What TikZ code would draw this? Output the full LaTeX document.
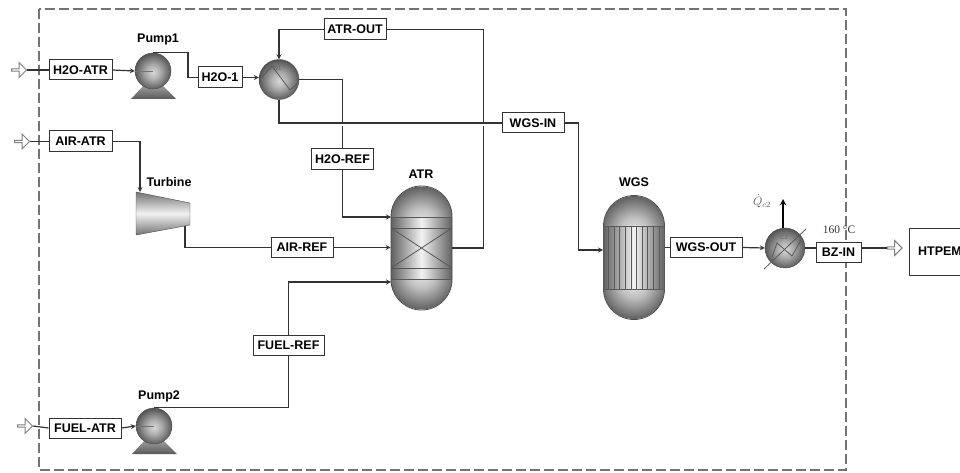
\documentclass[tikz,border=0pt]{standalone}
\usepackage{fontspec}
\setmainfont{Liberation Sans}
\newfontfamily\notefont{Liberation Serif}
\usetikzlibrary{shapes.arrows}

% Sombras de los equipos
\pgfdeclareradialshading{vesseltop}{\pgfpoint{0bp}{-6bp}}{gray(0bp)=(.93); gray(12bp)=(.75); gray(31bp)=(.3); gray(50bp)=(.3)}
\pgfdeclareradialshading{vesselbottom}{\pgfpoint{0bp}{6bp}}{gray(0bp)=(.93); gray(12bp)=(.75); gray(31bp)=(.3); gray(50bp)=(.3)}
\pgfdeclareradialshading{ballshade}{\pgfpoint{0bp}{-2bp}}{gray(0bp)=(.85); gray(10bp)=(.68); gray(27bp)=(.3); gray(50bp)=(.3)}

\begin{document}
\begin{tikzpicture}[>=stealth, x=1pt, y=-1pt, every node/.style={font=\fontsize{12.5}{14}\selectfont\bfseries}]

\tikzset{
    stream/.style={draw=black!80, line width=1.2pt},
    tagbox/.style={draw=black!80, fill=white, line width=1pt, inner sep=0pt},
    feedarrow/.style={single arrow, draw=black!50, fill=white, line width=1pt, inner sep=0pt,
        minimum width=15pt, minimum height=15pt, single arrow head extend=3pt},
    eqball/.style={circle, shade, shading=ballshade, draw=black!70, inner sep=0pt},
    vesselshell/.style={rectangle, draw=black!70, line width=.8pt, rounded corners=30.5pt,
        minimum width=61pt, minimum height=124pt, inner sep=0pt},
    innerline/.style={draw=black!65, line width=.8pt}
}

\useasboundingbox (0,0) rectangle (960,473);

% Limite de la planta
\draw[black!55, line width=1.2pt, dash pattern=on 10pt off 4pt] (39,9) rectangle (846,470);

% =============================================
% BOMBAS
% =============================================
\foreach \pumpname/\px/\py in {Pump1/153/71, Pump2/154/426} {
    \shade[top color=black!35, bottom color=black!65]
        (\px-22,\py+28) -- (\px-8,\py+13) -- (\px+8,\py+13) -- (\px+23,\py+28) -- cycle;
    \node[eqball, minimum size=36pt, name=\pumpname] at (\px,\py) {};
    \draw[black!55, line width=.6pt] (\pumpname.west) -- (\pumpname.center);
}
\node (Pump1label) at (158,39) {Pump1};
\node (Pump2label) at (159,396) {Pump2};

% =============================================
% REACTORES
% =============================================
\foreach \vesselname/\vx/\vy in {ATR/421.5/248, WGS/634/257.5} {
    \begin{scope}
        \clip (\vx-30.5,\vy-63) rectangle (\vx+30.5,\vy-31);
        \shade[shading=vesseltop] (\vx,\vy-31) circle (30.5pt);
    \end{scope}
    \begin{scope}
        \clip (\vx-30.5,\vy+31) rectangle (\vx+30.5,\vy+63);
        \shade[shading=vesselbottom] (\vx,\vy+31) circle (30.5pt);
    \end{scope}
    \shade[left color=black!62, right color=black!62, middle color=black!5]
        (\vx-30.5,\vy-31) rectangle (\vx+30.5,\vy+31);
    \node[vesselshell, name=\vesselname] at (\vx,\vy) {};
}
\node (ATRlabel) at (421,174) {ATR};
\node (WGSlabel) at (634,182) {WGS};

% Lechos del ATR
\foreach \bandy in {217,228,268,279} {
    \draw[innerline] (391,\bandy) -- (452,\bandy);
}
\draw[innerline] (391,228) -- (452,268);
\draw[innerline] (391,268) -- (452,228);

% Tubos del WGS
\foreach \tubex in {603,608.6,...,665} {
    \draw[innerline] (\tubex,226) -- (\tubex,289);
}
\draw[innerline] (603,226) -- (665,226);
\draw[innerline] (603,289) -- (665,289);

% =============================================
% TURBINA E INTERCAMBIADORES
% =============================================
\shade[top color=black!55, bottom color=black!55, middle color=black!5, draw=black!70]
    (136,192) -- (190,203) -- (190,225) -- (136,235) -- cycle;
\coordinate (Turbinein) at (140,192);
\coordinate (Turbineout) at (185,226);
\node (Turbinelabel) at (169,182) {Turbine};

\node[eqball, minimum size=40pt] (W1) at (279,79.5) {};
\draw[innerline] (261,78) -- (272,66) -- (290,90) -- (298,83);
\node[font=\fontsize{6}{7}\selectfont, text=black!60] (W1label) at (277,68) {W1};

\node[eqball, minimum size=40pt] (C2) at (785,248) {};
\draw[innerline] (764,269) -- (806,229);
\draw[innerline] (772,257) -- (777,243) -- (792,256) -- (801,240);
\node[font=\fontsize{6}{7}\selectfont, text=black!60] (C2label) at (784,237) {C2};

% =============================================
% ETIQUETAS DE CORRIENTES
% =============================================
\node[tagbox, minimum width=63pt, minimum height=20pt] (H2OATR) at (80.5,70) {H2O-ATR};
\node[tagbox, minimum width=63pt, minimum height=21pt] (AIRATR) at (80.5,141.5) {AIR-ATR};
\node[tagbox, minimum width=72pt, minimum height=20pt] (FUELATR) at (85,428) {FUEL-ATR};
\node[tagbox, minimum width=44pt, minimum height=21pt] (H2Oone) at (220,77.5) {H2O-1};
\node[tagbox, minimum width=62pt, minimum height=21pt] (ATROUT) at (355,29.5) {ATR-OUT};
\node[tagbox, minimum width=62pt, minimum height=21pt] (H2OREF) at (342.5,159) {H2O-REF};
\node[tagbox, minimum width=62pt, minimum height=20pt] (WGSIN) at (533,123) {WGS-IN};
\node[tagbox, minimum width=62pt, minimum height=20pt] (AIRREF) at (302,247.5) {AIR-REF};
\node[tagbox, minimum width=71pt, minimum height=20pt] (FUELREF) at (288.5,345.5) {FUEL-REF};
\node[tagbox, minimum width=72pt, minimum height=20pt] (WGSOUT) at (706,247.5) {WGS-OUT};
\node[tagbox, minimum width=45pt, minimum height=20pt] (BZIN) at (838.5,252) {BZ-IN};
\node[tagbox, minimum width=62pt, minimum height=47pt] (HTPEM) at (940,251.5) {HTPEM};

% Flechas de alimentacion y salida
\node[feedarrow] (feedH2O) at (18.5,70) {};
\node[feedarrow] (feedAIR) at (21.5,141.5) {};
\node[feedarrow] (feedFUEL) at (24.5,426) {};
\node[feedarrow] (feedHTPEM) at (894,248) {};

% Puntos de entrada a los reactores
\coordinate (ATRintop) at (391,217);
\coordinate (ATRinlow) at (391,282);
\coordinate (WGSin) at (603,250);

% =============================================
% CORRIENTES
% =============================================
\draw[stream] (feedH2O.east) -- (H2OATR.west);
\draw[stream, ->] (H2OATR.east) -- (Pump1.west);
\draw[stream] (Pump1.north) -- ++(35,0) |- (H2Oone.west);
\draw[stream, ->] (H2Oone.east) -- (H2Oone.east -| W1.west);
\draw[stream, ->] (ATROUT.west) -| (W1.north);
\draw[stream] (W1.east) -| (H2OREF.north);
\draw[stream, ->] (H2OREF.south) |- (ATRintop);
\draw[stream] (ATR.east) -- ++(31,0) |- (ATROUT.east);

\draw[stream] (feedAIR.east) -- (AIRATR.west);
\draw[stream, ->] (AIRATR.east) -| (Turbinein);
\draw[stream] (Turbineout) |- (AIRREF.west);
\draw[stream, ->] (AIRREF.east) -- (AIRREF.east -| ATR.west);

\draw[stream] (feedFUEL.east) -- (FUELATR.west);
\draw[stream, ->] (FUELATR.east) -- (Pump2.west);
\draw[stream] (Pump2.north) -| (FUELREF.south);
\draw[stream, ->] (FUELREF.north) |- (ATRinlow);

% Pequenos cortes donde se cruzan las lineas
\fill[white] (340,123.5) rectangle (345,126.5);
\fill[white] (481,123.5) rectangle (486,126.5);

\draw[stream] (W1.south) |- (WGSIN.west);
\draw[stream, ->] (WGSIN.east) -- ++(14,0) |- (WGSin);
\draw[stream] (WGS.east |- WGSOUT.west) -- (WGSOUT.west);
\draw[stream, ->] (WGSOUT.east) -- (C2.west);
\draw[stream] (C2.east) -- (C2.east -| BZIN.west);
\draw[stream] (BZIN.east |- feedHTPEM.west) -- (feedHTPEM.west);

% Calor retirado y temperatura
\coordinate (Qtip) at (783,199);
\draw[->, black, line width=1.8pt] (C2.north -| Qtip) -- (Qtip);
\node[font=\fontsize{12}{14}\selectfont, text=black!65] (Qlabel) at (762,201) {$\dot{Q}_{c2}$};
\node[font=\notefont\fontsize{11.5}{14}\selectfont, text=black!80] (Tlabel) at (839,230) {160 °C};

\end{tikzpicture}
\end{document}
